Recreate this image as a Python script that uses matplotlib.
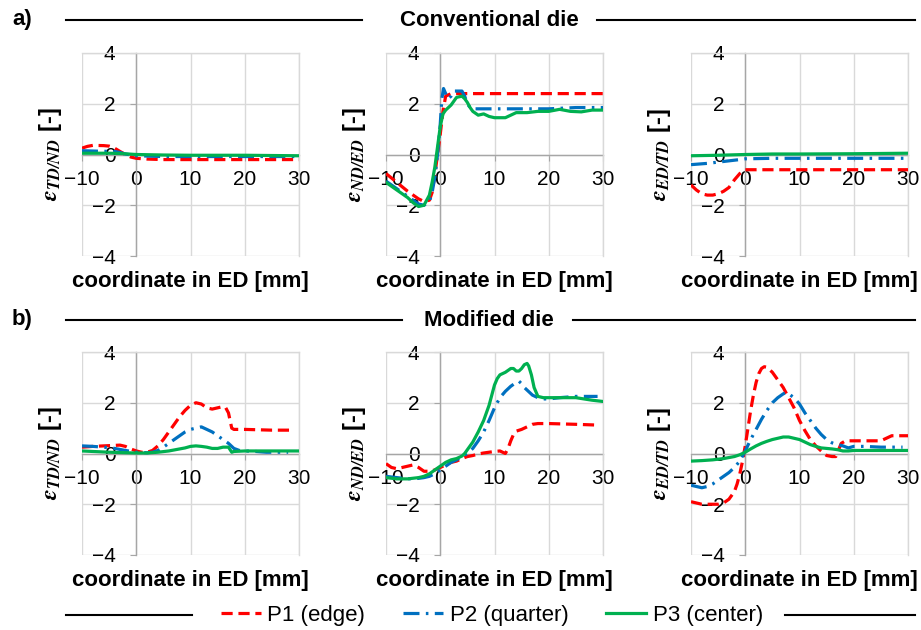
import numpy as np
import matplotlib
matplotlib.use("Agg")
import matplotlib.pyplot as plt
from matplotlib.lines import Line2D

plt.rcParams["font.family"] = ["Liberation Sans", "DejaVu Sans"]
# bold italic serif for the strain symbols
plt.rcParams["mathtext.fontset"] = "custom"
plt.rcParams["mathtext.rm"] = "STIXGeneral"
plt.rcParams["mathtext.it"] = "STIXGeneral:italic"
plt.rcParams["mathtext.bf"] = "STIXGeneral:italic:bold"
plt.rcParams["mathtext.fallback"] = "stix"

# ---- data (strain vs coordinate in ED) ----
series_names = ["P1 (edge)", "P2 (quarter)", "P3 (center)"]
row_titles = ["Conventional die", "Modified die"]
row_tags = ["a)", "b)"]
ylabels = [r"$\mathbf{\varepsilon}_{\mathbf{TD/ND}}$ [-]",
           r"$\mathbf{\varepsilon}_{\mathbf{ND/ED}}$ [-]",
           r"$\mathbf{\varepsilon}_{\mathbf{ED/TD}}$ [-]"]
xticks = [-10, 0, 10, 20, 30]
yticks = [-4, -2, 0, 2, 4]

# a) conventional die, TD/ND
a1_p1_x = [-10, -9, -8, -6, -5, -4, -3, -2, -1, 0, 2, 5, 10, 20, 30]
a1_p1_y = [0.25, 0.32, 0.36, 0.35, 0.33, 0.25, 0.12, 0.0, -0.1, -0.15, -0.18, -0.2, -0.2, -0.2, -0.2]
a1_p2_x = [-10, -7, -4, -3, -2, 0, 5, 10, 20, 30]
a1_p2_y = [0.15, 0.13, 0.12, 0.08, 0.02, -0.05, -0.08, -0.08, -0.08, -0.08]
a1_p3_x = [-10, -5, -3, 0, 5, 10, 20, 30]
a1_p3_y = [0.05, 0.05, 0.04, 0.0, -0.02, -0.03, -0.03, -0.05]

# a) conventional die, ND/ED
a2_p1_x = [-10, -8, -6, -4, -3, -2, -1.5, -1, -0.5, 0, 0.5, 1, 2, 5, 10, 20, 30]
a2_p1_y = [-0.75, -1.1, -1.45, -1.75, -1.85, -1.8, -1.5, -0.8, 0.0, 0.8, 1.7, 2.3, 2.4, 2.4, 2.4, 2.4, 2.4]
a2_p2_x = [-10, -8, -6, -4, -3, -2, -1.5, -1, -0.5, 0, 0.3, 0.6, 1, 1.5, 2, 2.5, 3, 4, 4.5, 5, 5.5, 6,
           8, 10, 15, 20, 25, 30]
a2_p2_y = [-1.05, -1.35, -1.65, -1.95, -2.0, -1.85, -1.5, -0.9, 0.0, 1.2, 2.2, 2.6, 2.4, 2.2, 2.3, 2.5, 2.5,
           2.5, 2.3, 2.0, 1.85, 1.8, 1.8, 1.8, 1.8, 1.8, 1.85, 1.85]
a2_p3_x = [-10, -8, -6, -5, -4, -3, -2, -1.5, -1, -0.5, 0, 0.5, 1, 1.5, 2, 3, 4, 4.5, 5, 5.5, 6, 7, 8, 9,
           10, 12, 13, 14, 16, 18, 20, 22, 24, 26, 28, 30]
a2_p3_y = [-1.1, -1.4, -1.7, -1.9, -2.05, -2.0, -1.6, -1.1, -0.5, 0.3, 1.1, 1.6, 1.75, 1.85, 1.95, 2.25,
           2.3, 2.2, 2.05, 1.85, 1.7, 1.55, 1.6, 1.5, 1.45, 1.45, 1.55, 1.65, 1.65, 1.7, 1.7, 1.78, 1.7,
           1.68, 1.75, 1.75]

# a) conventional die, ED/TD
a3_p1_x = [-10, -9, -8, -7, -6, -5, -4, -3, -2, -1, 0, 2, 10, 20, 30]
a3_p1_y = [-1.2, -1.4, -1.55, -1.6, -1.6, -1.55, -1.45, -1.3, -1.0, -0.75, -0.6, -0.6, -0.6, -0.6, -0.6]
a3_p2_x = [-10, -7, -5, -3, -1, 0, 5, 10, 20, 30]
a3_p2_y = [-0.4, -0.35, -0.3, -0.25, -0.2, -0.17, -0.15, -0.15, -0.15, -0.15]
a3_p3_x = [-10, -5, 0, 5, 10, 20, 30]
a3_p3_y = [-0.05, -0.03, 0.0, 0.02, 0.02, 0.03, 0.05]

# b) modified die, TD/ND
b1_p1_x = [-10, -8, -6, -4, -3, -2, -1, 0, 1, 2, 3, 4, 5, 6, 7, 8, 9, 10, 11, 12, 13, 14, 15, 16, 16.5,
           17, 17.3, 17.6, 18, 20, 25, 29]
b1_p1_y = [0.25, 0.28, 0.3, 0.32, 0.33, 0.28, 0.18, 0.1, 0.05, 0.05, 0.12, 0.3, 0.55, 0.85, 1.15, 1.45,
           1.7, 1.9, 2.0, 1.95, 1.8, 1.75, 1.8, 1.85, 1.8, 1.6, 1.3, 1.0, 0.95, 0.95, 0.92, 0.92]
b1_p2_x = [-10, -8, -6, -4, -2, 0, 2, 3, 4, 5, 6, 7, 8, 9, 10, 11, 12, 13, 14, 15, 16, 17, 18, 19, 20,
           22, 24, 28]
b1_p2_y = [0.3, 0.28, 0.25, 0.2, 0.12, 0.05, 0.03, 0.05, 0.12, 0.25, 0.4, 0.55, 0.7, 0.85, 0.95, 1.0,
           1.05, 0.95, 0.85, 0.7, 0.55, 0.4, 0.2, 0.12, 0.1, 0.08, 0.05, 0.05]
b1_p3_x = [-10, -8, -5, -2, 0, 2, 4, 6, 8, 9, 10, 11, 12, 13, 14, 15, 16, 17, 17.3, 17.6, 18, 20, 25, 30]
b1_p3_y = [0.1, 0.08, 0.05, 0.03, 0.02, 0.02, 0.05, 0.1, 0.18, 0.22, 0.28, 0.3, 0.28, 0.25, 0.2, 0.2,
           0.25, 0.25, 0.15, 0.05, 0.08, 0.1, 0.1, 0.1]

# b) modified die, ND/ED
b2_p1_x = [-10, -9, -8, -7, -6, -5, -4, -3, -2, -1, 0, 1, 2, 3, 4, 5, 6, 7, 8, 9, 10, 11, 11.5, 12,
           12.5, 13, 13.5, 14, 15, 16, 17, 18, 20, 25, 29]
b2_p1_y = [-0.4, -0.55, -0.6, -0.55, -0.5, -0.45, -0.55, -0.7, -0.7, -0.65, -0.55, -0.45, -0.35, -0.3,
           -0.2, -0.12, -0.08, -0.02, 0.02, 0.05, 0.08, 0.1, 0.05, 0.0, 0.2, 0.5, 0.75, 0.88, 0.95, 1.05,
           1.15, 1.18, 1.18, 1.15, 1.12]
b2_p2_x = [-10, -8, -6, -4, -3, -2, -1, 0, 1, 2, 3, 4, 5, 6, 7, 8, 9, 10, 11, 12, 13, 14, 14.5, 15,
           15.5, 16, 16.5, 17, 18, 19, 20, 22, 25, 29]
b2_p2_y = [-0.9, -0.95, -1.0, -0.98, -0.95, -0.9, -0.8, -0.65, -0.5, -0.35, -0.25, -0.12, 0.0, 0.2, 0.5,
           0.85, 1.3, 1.8, 2.2, 2.45, 2.65, 2.8, 2.85, 2.75, 2.6, 2.5, 2.4, 2.3, 2.2, 2.15, 2.15, 2.2,
           2.25, 2.25]
b2_p3_x = [-10, -8, -7, -6, -4, -3, -2, -1, 0, 1, 2, 3, 4, 4.5, 5, 6, 7, 8, 9, 9.5, 10, 10.5, 11, 12,
           13, 13.5, 14, 14.5, 15, 15.5, 16, 16.3, 16.8, 17.3, 18, 19, 20, 25, 28, 30]
b2_p3_y = [-0.95, -1.0, -1.0, -1.0, -0.95, -0.9, -0.8, -0.65, -0.5, -0.35, -0.25, -0.2, -0.1, 0.0,
           0.15, 0.45, 0.85, 1.3, 1.9, 2.3, 2.7, 2.95, 3.1, 3.2, 3.35, 3.35, 3.25, 3.25, 3.35, 3.5,
           3.55, 3.45, 3.1, 2.6, 2.25, 2.2, 2.2, 2.2, 2.1, 2.05]

# b) modified die, ED/TD
b3_p1_x = [-10, -9, -8, -7, -6, -5, -4, -3, -2, -1.5, -1, -0.5, 0, 0.5, 1, 1.5, 2, 2.5, 3, 3.5, 4, 5,
           6, 7, 8, 9, 10, 11, 12, 13, 14, 15, 16, 16.7, 17.2, 17.7, 18.5, 20, 25, 26, 27, 30]
b3_p1_y = [-1.9, -1.95, -2.0, -2.0, -2.0, -2.0, -1.95, -1.8, -1.5, -1.2, -0.8, -0.3, 0.3, 1.0, 1.7,
           2.3, 2.8, 3.15, 3.35, 3.42, 3.4, 3.2, 2.9, 2.6, 2.2, 1.8, 1.3, 0.9, 0.55, 0.3, 0.1, -0.08,
           -0.12, -0.12, 0.15, 0.4, 0.5, 0.5, 0.5, 0.6, 0.7, 0.7]
b3_p2_x = [-10, -9, -8, -7, -6, -5, -4, -3, -2, -1, 0, 1, 2, 3, 4, 5, 6, 7, 7.5, 8, 9, 10, 11, 12, 13,
           14, 15, 16, 17, 18, 19, 20, 22, 25, 29]
b3_p2_y = [-1.25, -1.3, -1.35, -1.3, -1.2, -1.05, -0.9, -0.75, -0.55, -0.3, 0.1, 0.55, 0.95, 1.35, 1.7,
           2.0, 2.2, 2.35, 2.4, 2.35, 2.2, 1.95, 1.6, 1.3, 1.0, 0.75, 0.55, 0.42, 0.35, 0.3, 0.22, 0.28,
           0.28, 0.25, 0.25]
b3_p3_x = [-10, -8, -6, -4, -2, -1, 0, 1, 2, 3, 4, 5, 6, 7, 8, 9, 10, 11, 12, 13, 14, 15, 16, 17, 18,
           19, 20, 25, 30]
b3_p3_y = [-0.3, -0.28, -0.25, -0.2, -0.12, -0.05, 0.05, 0.18, 0.3, 0.4, 0.48, 0.55, 0.6, 0.65, 0.65,
           0.6, 0.55, 0.45, 0.35, 0.28, 0.22, 0.2, 0.18, 0.15, 0.1, 0.1, 0.12, 0.12, 0.12]

panels = [
    [[(a1_p1_x, a1_p1_y), (a1_p2_x, a1_p2_y), (a1_p3_x, a1_p3_y)],
     [(a2_p1_x, a2_p1_y), (a2_p2_x, a2_p2_y), (a2_p3_x, a2_p3_y)],
     [(a3_p1_x, a3_p1_y), (a3_p2_x, a3_p2_y), (a3_p3_x, a3_p3_y)]],
    [[(b1_p1_x, b1_p1_y), (b1_p2_x, b1_p2_y), (b1_p3_x, b1_p3_y)],
     [(b2_p1_x, b2_p1_y), (b2_p2_x, b2_p2_y), (b2_p3_x, b2_p3_y)],
     [(b3_p1_x, b3_p1_y), (b3_p2_x, b3_p2_y), (b3_p3_x, b3_p3_y)]],
]

# styles
colors = ["#ff0000", "#0070c0", "#00b050"]
dashes = [(3.5, 1.8), (5, 2, 0.8, 2), None]
lw = 2.3

fig = plt.figure(figsize=(9.21, 6.30), dpi=100)

col_left = [82 / 921, 386 / 921, 691 / 921]
ax_w = 217 / 921
row_bottom = [1 - 256 / 630, 1 - 555 / 630]
ax_h = 203 / 630

for r in range(2):
    for c in range(3):
        ax = fig.add_axes([col_left[c], row_bottom[r], ax_w, ax_h])
        for k, (xs, ys) in enumerate(panels[r][c]):
            ln, = ax.plot(xs, ys, color=colors[k], lw=lw, zorder=3 + k)
            if dashes[k] is not None:
                ln.set_dashes(dashes[k])
        ax.set_xlim(-10, 30)
        ax.set_ylim(-4, 4)
        ax.set_xticks(xticks)
        ax.set_yticks(yticks)
        ax.grid(True, color="#d9d9d9", lw=1.0)
        ax.set_axisbelow(True)
        for gl in ax.get_xgridlines() + ax.get_ygridlines():
            gl.set_clip_on(False)
        # axes cross at zero, excel style
        ax.spines["left"].set_position(("data", 0))
        ax.spines["bottom"].set_position(("data", 0))
        for s in ["left", "bottom"]:
            ax.spines[s].set_color("#a6a6a6")
            ax.spines[s].set_linewidth(1.0)
            ax.spines[s].set_zorder(2)
        for s in ["top", "right"]:
            ax.spines[s].set_color("#d9d9d9")
            ax.spines[s].set_linewidth(1.0)
        ax.tick_params(axis="both", direction="out", length=4, color="#a6a6a6", labelsize=15)
        ax.tick_params(axis="x", pad=7)
        ax.tick_params(axis="y", pad=11)
        for t in ax.get_xticklabels() + ax.get_yticklabels():
            t.set_zorder(1)
        ax.set_xlabel("coordinate in ED [mm]", fontsize=16, fontweight="bold")
        ax.xaxis.set_label_coords(0.5, -0.128)
        ax.xaxis.label.set_va("center")
        ax.set_ylabel(ylabels[c], fontsize=17, fontweight="bold")
        ax.yaxis.set_label_coords(-0.145, 0.5)
        ax.yaxis.label.set_va("center")

# section headers with rules
header_y = [1 - 20 / 630, 1 - 320 / 630]
rule_left_end = [362 / 921, 402 / 921]
rule_right_start = [597 / 921, 573 / 921]
for r in range(2):
    fig.text(12 / 921, header_y[r], row_tags[r], fontsize=16, fontweight="bold", va="center", ha="left")
    fig.text(489 / 921, header_y[r], row_titles[r], fontsize=16, fontweight="bold", va="center", ha="center")
    fig.add_artist(Line2D([66 / 921, rule_left_end[r]], [header_y[r], header_y[r]], color="black", lw=1.5))
    fig.add_artist(Line2D([rule_right_start[r], 915 / 921], [header_y[r], header_y[r]], color="black", lw=1.5))

# legend at the bottom
handles = []
for k in range(3):
    h = Line2D([], [], color=colors[k], lw=lw)
    if dashes[k] is not None:
        h.set_dashes(dashes[k])
    handles.append(h)
leg_y = 1 - 615 / 630
fig.legend(handles, series_names, loc="center", bbox_to_anchor=(492 / 921, leg_y), ncol=3,
           frameon=False, fontsize=16, handlelength=1.8, handletextpad=0.3, columnspacing=1.7)
fig.add_artist(Line2D([66 / 921, 192 / 921], [leg_y, leg_y], color="black", lw=1.5))
fig.add_artist(Line2D([785 / 921, 915 / 921], [leg_y, leg_y], color="black", lw=1.5))

fig.savefig("out.png", dpi=100)
